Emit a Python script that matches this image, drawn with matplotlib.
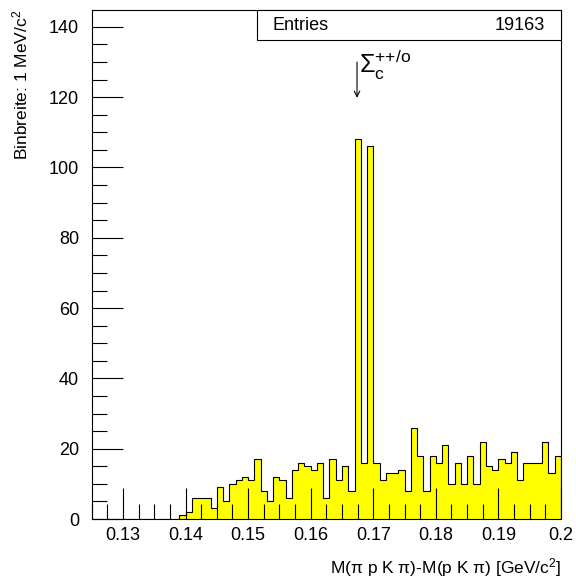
import numpy as np
import matplotlib
matplotlib.use('Agg')
import matplotlib.pyplot as plt
from matplotlib.patches import Rectangle
from matplotlib.ticker import MultipleLocator, FixedLocator

plt.rcParams['font.family'] = ['Liberation Sans', 'DejaVu Sans']
plt.rcParams['mathtext.fontset'] = 'custom'
plt.rcParams['mathtext.rm'] = 'Liberation Sans'
plt.rcParams['mathtext.it'] = 'Liberation Sans:italic'
plt.rcParams['mathtext.sf'] = 'Liberation Sans'

# Histogramm: 1 MeV Bins von 0.125 bis 0.200 GeV
x_min = 0.125
x_max = 0.200
n_bins = 75
counts = [0, 0, 0, 0, 0, 0, 0, 0, 0, 0, 0, 0, 0, 0,
          1, 2, 6, 6, 6, 3, 9, 5, 10, 11, 12, 11, 17, 8, 5, 12,
          11, 6, 14, 16, 15, 14, 16, 6, 17, 11, 15, 8, 108, 16, 106,
          16, 11, 13, 13, 14, 8, 26, 18, 8, 18, 16, 21, 10, 16, 10,
          18, 10, 22, 15, 14, 17, 16, 19, 11, 16, 16, 16, 22, 13, 18]
entries = 19163
x_ticks = [0.13, 0.14, 0.15, 0.16, 0.17, 0.18, 0.19, 0.2]
x_tick_labels = ['0.13', '0.14', '0.15', '0.16', '0.17', '0.18', '0.19', '0.2']
y_ticks = [0, 20, 40, 60, 80, 100, 120, 140]
peak_x = 0.1674
peak_label = r'$\Sigma_\mathrm{c}^{\mathrm{{+}{+}/o}}$'

edges = np.linspace(x_min, x_max, n_bins + 1)

fig = plt.figure(figsize=(5.76, 5.81), dpi=100)
ax = fig.add_axes([91.7 / 576, 62 / 581, 469.3 / 576, 509 / 581])

ax.stairs(counts, edges, fill=True, color='#ffff00', zorder=1)
ax.stairs(counts, edges, color='black', lw=0.8, baseline=0, zorder=1.5)

ax.set_xlim(x_min, x_max)
ax.set_ylim(0, 144.8)

ax.xaxis.set_major_locator(FixedLocator(x_ticks))
ax.set_xticklabels(x_tick_labels)
ax.xaxis.set_minor_locator(MultipleLocator(0.0025))
ax.yaxis.set_major_locator(FixedLocator(y_ticks))
ax.yaxis.set_minor_locator(MultipleLocator(5))

ax.tick_params(which='both', direction='in', top=False, right=False,
               width=0.8, colors='black', labelsize=13)
ax.tick_params(which='major', length=22)
ax.tick_params(which='minor', length=11)
ax.tick_params(axis='x', pad=6)
ax.tick_params(axis='y', pad=9)

for s in ax.spines.values():
    s.set_linewidth(0.8)

# Achsentitel im ROOT-Stil
fig.text(20 / 576, 1 - 10 / 581, r'Binbreite: 1 MeV/c$^{2}$', rotation=90,
         ha='center', va='top', fontsize=12.5)
fig.text(561 / 576, 8 / 581, r'M(π p K π)-M(p K π) [GeV/c$^{2}$]',
         ha='right', va='baseline', fontsize=12.5)

# Statistik-Box
box = Rectangle((0.353, 0.941), 0.647, 0.059, transform=ax.transAxes,
                facecolor='white', edgecolor='black', lw=0.8, zorder=5,
                clip_on=False)
ax.add_patch(box)
ax.text(0.386, 0.970, 'Entries', transform=ax.transAxes, ha='left',
        va='center', fontsize=13, zorder=6)
ax.text(0.966, 0.970, str(entries), transform=ax.transAxes, ha='right',
        va='center', fontsize=13, zorder=6)

# Markierung des Sigma_c Signals
ax.annotate('', xy=(peak_x, 119.8), xytext=(peak_x, 130),
            arrowprops=dict(arrowstyle='->', lw=0.8, color='black',
                            shrinkA=0, shrinkB=0))
ax.text(peak_x + 0.0003, 124.3, peak_label, ha='left', va='bottom', fontsize=18)

fig.savefig('out.png', dpi=100)
